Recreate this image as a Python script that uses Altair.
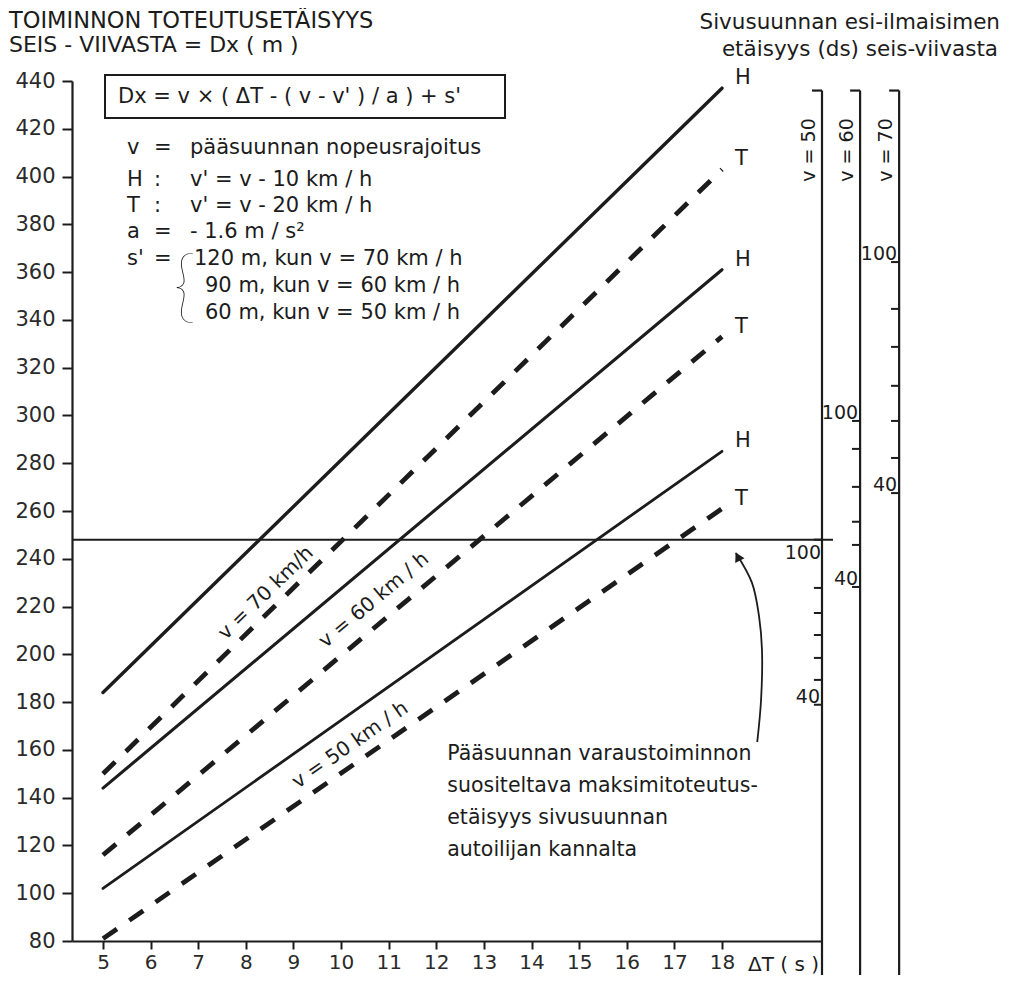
import altair as alt
import pandas as pd

# ---------------- data ----------------
# main chart: Dx (m) at ΔT = 5 s and ΔT = 18 s for every curve
series_speed = ["v=70", "v=70", "v=60", "v=60", "v=50", "v=50"]
series_kind = ["H", "T", "H", "T", "H", "T"]
dT_start = [5, 5, 5, 5, 5, 5]
dT_end = [18, 18, 18, 18, 18, 18]
dx_start = [184, 150, 144, 116, 102, 81]
dx_end = [437, 403, 361, 333, 285, 261]

x_tick_values = list(range(5, 19))
y_tick_values = list(range(80, 441, 20))
limit_dx = [248]

# auxiliary ds-scales (position in ΔT units, ticks in Dx-equivalent units)
aux_names = ["v  =  50", "v  =  60", "v  =  70"]
aux_x = [20.10, 20.90, 21.72]
aux_top = [436, 436, 436]
aux_ticks_v50 = [248, 227.8, 217.3, 208.1, 198.5, 189.3, 178.9]
aux_ticks_v60 = [297.7, 286.0, 270.1, 255.5, 245.8, 228.2]
aux_ticks_v70 = [364.2, 344.6, 328.7, 312.4, 297.7, 282.2, 267.5]
aux_label_axis = [0, 1, 1, 2, 2]
aux_label_text = ["40", "100", "40", "100", "40"]
aux_label_dx = [178.9, 297.7, 228.2, 364.2, 267.5]
aux_label_below_text = ["100"]
aux_label_below_dx = [248]

# curved arrow pointing to the limit line
arrow_dT = [18.29, 18.63, 18.78, 18.84, 18.82, 18.74]
arrow_dx = [242.4, 229.9, 215.6, 201.8, 180.9, 163.3]
arrow_head = (18.33, 240.9)

note_lines = ["Pääsuunnan varaustoiminnon",
              "suositeltava maksimitoteutus-",
              "etäisyys sivusuunnan",
              "autoilijan kannalta"]
note_dx = [158.2, 144.8, 131.4, 118.0]
note_dT = 12.23

speed_label_text = ["v = 70 km/h", "v = 60  km / h", "v  =  50  km / h"]
speed_label_dT = [8.42, 10.69, 10.19]
speed_label_dx = [225.7, 222.7, 162.0]
speed_label_angle = [315.7, 320.1, 325.1]

# ---------------- build tables ----------------
rows = []
for sp, k, t0, t1, d0, d1 in zip(series_speed, series_kind, dT_start, dT_end, dx_start, dx_end):
    rows.append({"speed": sp, "kind": k, "series": sp + k, "dT": t0, "Dx": d0})
    rows.append({"speed": sp, "kind": k, "series": sp + k, "dT": t1, "Dx": d1})
lines = pd.DataFrame(rows)
ends = pd.DataFrame({"speed": series_speed, "kind": series_kind,
                     "dT": dT_end, "Dx": dx_end})

INK = "#1c1c1c"
FONT = "DejaVu Sans"
W, H = 750, 860
X_DOM = [4.349, 20.10]
Y_DOM = [80, 440]

xs = alt.Scale(domain=X_DOM, nice=False, zero=False)
ys = alt.Scale(domain=Y_DOM, nice=False, zero=False)

base_x = alt.X("dT:Q", scale=xs,
               axis=alt.Axis(values=x_tick_values, title=None, labelFontSize=20,
                             tickSize=8, tickWidth=2, domainWidth=2.2, labelPadding=3,
                             grid=False, domainColor=INK, tickColor=INK,
                             labelColor="#2a2a2a", labelFont=FONT))
base_y = alt.Y("Dx:Q", scale=ys,
               axis=alt.Axis(values=y_tick_values, title=None, labelFontSize=21,
                             tickSize=10, tickWidth=2, domainWidth=2.2, labelPadding=7,
                             grid=False, domainColor=INK, tickColor=INK,
                             labelColor="#2a2a2a", labelFont=FONT))

solid = alt.Chart(lines).transform_filter(alt.datum.kind == "H").mark_line(
    color=INK, strokeCap="round").encode(
    x=base_x, y=base_y, detail="series:N",
    strokeWidth=alt.StrokeWidth("speed:N", legend=None,
                                scale=alt.Scale(domain=["v=70", "v=60", "v=50"],
                                                range=[3.4, 2.8, 2.3])))

dashed = alt.Chart(lines).transform_filter(alt.datum.kind == "T").mark_line(
    color=INK, strokeWidth=4.8, strokeDash=[17, 15], strokeCap="butt").encode(
    x=alt.X("dT:Q", scale=xs), y=alt.Y("Dx:Q", scale=ys), detail="series:N")

end_labels = alt.Chart(ends).mark_text(
    font=FONT, fontSize=21, color=INK, dx=13, dy=-10, align="left").encode(
    x=alt.X("dT:Q", scale=xs), y=alt.Y("Dx:Q", scale=ys), text="kind:N")

limit = alt.Chart(pd.DataFrame({"Dx": limit_dx, "x0": [X_DOM[0]], "x1": [20.33]})).mark_rule(
    color=INK, strokeWidth=2).encode(
    y=alt.Y("Dx:Q", scale=ys), x=alt.X("x0:Q", scale=xs), x2="x1:Q")

# auxiliary scales
aux_df = pd.DataFrame({"name": aux_names, "x": aux_x, "top": aux_top})
aux_df["hx"] = aux_df["x"] - 0.21
aux_df["lx"] = aux_df["x"] - 0.28
aux_lines = alt.Chart(aux_df).mark_rule(color=INK, strokeWidth=2.2).encode(
    x=alt.X("x:Q", scale=xs), y=alt.Y("top:Q", scale=ys), y2=alt.value(H + 40))
aux_hooks = alt.Chart(aux_df).mark_rule(color=INK, strokeWidth=2.2).encode(
    x=alt.X("hx:Q", scale=xs), x2="x:Q", y=alt.Y("top:Q", scale=ys))
aux_titles = alt.Chart(aux_df).mark_text(
    font=FONT, fontSize=19, color=INK, angle=270, align="center",
    baseline="middle").encode(
    x=alt.X("lx:Q", scale=xs), y=alt.value(69), text="name:N")

tick_rows = []
for i, vals in enumerate([aux_ticks_v50, aux_ticks_v60, aux_ticks_v70]):
    for v in vals:
        tick_rows.append({"x": aux_x[i], "x0": aux_x[i] - 0.17, "Dx": v})
aux_ticks = alt.Chart(pd.DataFrame(tick_rows)).mark_rule(color=INK, strokeWidth=2).encode(
    x=alt.X("x0:Q", scale=xs), x2="x:Q", y=alt.Y("Dx:Q", scale=ys))

lab_df = pd.DataFrame({"x": [aux_x[a] for a in aux_label_axis],
                       "t": aux_label_text, "Dx": aux_label_dx})
aux_labels = alt.Chart(lab_df).mark_text(
    font=FONT, fontSize=19, color=INK, align="right", baseline="alphabetic",
    dx=-2, dy=-2).encode(
    x=alt.X("x:Q", scale=xs), y=alt.Y("Dx:Q", scale=ys), text="t:N")
labb_df = pd.DataFrame({"x": [aux_x[0]], "t": aux_label_below_text, "Dx": aux_label_below_dx})
aux_labels_below = alt.Chart(labb_df).mark_text(
    font=FONT, fontSize=19, color=INK, align="right", baseline="top", dx=-1, dy=4).encode(
    x=alt.X("x:Q", scale=xs), y=alt.Y("Dx:Q", scale=ys), text="t:N")

# arrow
arrow_df = pd.DataFrame({"dT": arrow_dT, "Dx": arrow_dx, "o": list(range(len(arrow_dT)))})
arrow = alt.Chart(arrow_df).mark_line(color=INK, strokeWidth=1.8,
                                      interpolate="catmull-rom").encode(
    x=alt.X("dT:Q", scale=xs), y=alt.Y("Dx:Q", scale=ys), order="o:Q")
head = alt.Chart(pd.DataFrame({"dT": [arrow_head[0]], "Dx": [arrow_head[1]]})).mark_point(
    shape="triangle-up", filled=True, color=INK, size=110, angle=332, opacity=1).encode(
    x=alt.X("dT:Q", scale=xs), y=alt.Y("Dx:Q", scale=ys))

# speed labels along the lines
sl_df = pd.DataFrame({"t": speed_label_text, "dT": speed_label_dT, "Dx": speed_label_dx})
speed_labels = alt.layer(*[
    alt.Chart(sl_df.iloc[[i]]).mark_text(font=FONT, fontSize=20, color=INK,
                                          angle=speed_label_angle[i]).encode(
        x=alt.X("dT:Q", scale=xs), y=alt.Y("Dx:Q", scale=ys), text="t:N")
    for i in range(len(speed_label_text))])

# bottom-right note
note_df = pd.DataFrame({"t": note_lines, "Dx": note_dx, "dT": [note_dT] * len(note_lines)})
note = alt.Chart(note_df).mark_text(font=FONT, fontSize=20.5, color=INK, align="left").encode(
    x=alt.X("dT:Q", scale=xs), y=alt.Y("Dx:Q", scale=ys), text="t:N")

# text placed in the margins / top-left block (pixel offsets from plot origin)
one = pd.DataFrame({"k": [0]})


def txt(s, x, y, size=21, align="left", font=FONT, **kw):
    return alt.Chart(one).mark_text(font=font, fontSize=size, color=INK, align=align,
                                    baseline="middle", **kw).encode(
        x=alt.value(x), y=alt.value(y), text=alt.value(s))


title = [txt("TOIMINNON TOTEUTUSETÄISYYS", -63, -60, 22.5),
         txt("SEIS - VIIVASTA = Dx ( m )", -63, -36, 22),
         txt("Sivusuunnan  esi-ilmaisimen", 928, -58, 21.5, align="right"),
         txt("etäisyys  (ds)  seis-viivasta", 926, -31, 21.5, align="right")]

box = alt.Chart(one).mark_rect(fill=None, stroke=INK, strokeWidth=2).encode(
    x=alt.value(33), x2=alt.value(433), y=alt.value(-6), y2=alt.value(37))
formula = txt("Dx  =  v × ( ΔT  -  ( v - v' ) / a ) + s'", 46, 16, 21)

col1 = ["v", "H", "T", "a", "s'"]
col2 = ["=", ":", ":", "=", "="]
col3 = ["pääsuunnan  nopeusrajoitus", "v' =  v - 10 km / h", "v' =  v - 20 km / h",
        "- 1.6   m / s²"]
rows_y = [67, 99, 125, 151, 178]
legend_block = []
for i in range(5):
    legend_block.append(txt(col1[i], 55, rows_y[i]))
    legend_block.append(txt(col2[i], 82, rows_y[i]))
for i in range(4):
    legend_block.append(txt(col3[i], 118, rows_y[i]))
legend_block.append(txt("{", 101, 208, 80, font="Lato", fontWeight=100))
legend_block.append(txt("120 m,  kun  v = 70 km / h", 122, 178))
legend_block.append(txt("90 m,  kun  v = 60 km / h", 133, 205))
legend_block.append(txt("60 m,  kun  v = 50 km / h", 133, 232))

xt = txt("ΔT ( s )", 676, H + 24, 20)

chart = alt.layer(
    limit, solid, dashed, end_labels, aux_lines, aux_hooks, aux_titles, aux_ticks,
    aux_labels, aux_labels_below, arrow, head, speed_labels, note,
    *title, box, formula, *legend_block, xt
).properties(
    width=W, height=H,
    autosize=alt.AutoSizeParams(type="none"),
    padding={"left": 64, "top": 73, "right": 179, "bottom": 34},
    background="white",
).configure_view(stroke=None)

chart.save("out.html", embed_options={"renderer": "svg", "actions": False})
